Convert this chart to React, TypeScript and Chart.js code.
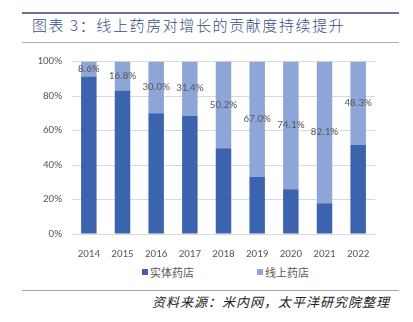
import React, { useEffect, useRef } from "react";
import { Chart, registerables } from "chart.js";

Chart.register(...registerables);

const titleText = "图表 3：线上药房对增长的贡献度持续提升";
const sourceText = "资料来源：米内网，太平洋研究院整理";
const years = ["2014", "2015", "2016", "2017", "2018", "2019", "2020", "2021", "2022"];
const seriesNames = ["实体药店", "线上药店"];
const offlineShare = [91.4, 83.2, 70.0, 68.6, 49.8, 33.0, 25.9, 17.9, 51.7];
const onlineShare = [8.6, 16.8, 30.0, 31.4, 50.2, 67.0, 74.1, 82.1, 48.3];
const yTicks = [0, 20, 40, 60, 80, 100];
const colors = ["#3C63AE", "#8EA6D7"];

const tickFont = 'Carlito, "Liberation Sans", "Noto Sans", sans-serif';

const labelPlugin = {
  id: "segLabels",
  afterDatasetsDraw(chart: any) {
    const ctx = chart.ctx;
    const meta = chart.getDatasetMeta(1);
    ctx.save();
    ctx.font = `11px ${tickFont}`;
    ctx.fillStyle = "#595959";
    ctx.textAlign = "center";
    ctx.textBaseline = "middle";
    meta.data.forEach((el: any, i: number) => {
      const v = onlineShare[i];
      const y = (el.y + el.base) / 2;
      ctx.fillText(v.toFixed(1) + "%", el.x, y);
    });
    ctx.restore();
  },
};

function ChartBox() {
  const ref = useRef<HTMLCanvasElement | null>(null);
  useEffect(() => {
    if (!ref.current) return;
    const chart = new Chart(ref.current, {
      type: "bar",
      data: {
        labels: years,
        datasets: [
          { label: seriesNames[0], data: offlineShare, backgroundColor: colors[0], barPercentage: 0.46, categoryPercentage: 1 },
          { label: seriesNames[1], data: onlineShare, backgroundColor: colors[1], barPercentage: 0.46, categoryPercentage: 1 },
        ],
      },
      options: {
        responsive: false,
        animation: false,
        devicePixelRatio: 1,
        layout: { padding: { left: 0, right: 38, top: 12, bottom: 0 } },
        plugins: { legend: { display: false }, tooltip: { enabled: false } },
        scales: {
          x: {
            stacked: true,
            grid: { display: false },
            border: { display: true, color: "#D9D9D9" },
            ticks: { color: "#595959", font: { family: tickFont, size: 11 }, padding: 6 },
            afterFit: (s: any) => { s.height = 26; },
          },
          y: {
            stacked: true,
            min: 0,
            max: 100,
            afterBuildTicks: (s: any) => { s.ticks = yTicks.map((v) => ({ value: v })); },
            grid: { color: "#D9D9D9", drawTicks: false },
            border: { display: false },
            ticks: {
              color: "#595959",
              font: { family: tickFont, size: 11 },
              padding: 10,
              callback: (v: any) => v + "%",
            },
            afterFit: (s: any) => { s.width = 72; },
          },
        },
      },
      plugins: [labelPlugin],
    });
    return () => chart.destroy();
  }, []);
  return <canvas ref={ref} width={413} height={215} style={{ position: "absolute", left: 0, top: 45, width: 413, height: 215 }} />;
}

export default function App() {
  return (
    <div style={{ position: "absolute", left: 0, top: 0, width: 413, height: 322, background: "#fff", overflow: "hidden" }}>
      <div style={{ position: "absolute", left: 22, top: 12, width: 377, height: 2, background: "#6E729F" }} />
      <div style={{ position: "absolute", left: 32, top: 14, height: 22, lineHeight: "22px", fontFamily: '"Noto Sans CJK SC", sans-serif', fontWeight: 300, fontSize: 15, letterSpacing: 1.6, color: "#34507F", whiteSpace: "nowrap" }}>
        {titleText}
      </div>
      <div style={{ position: "absolute", left: 22, top: 42, width: 377, height: 1, background: "#A9ACCB" }} />
      <ChartBox />
      <div style={{ position: "absolute", left: 0, top: 264, width: 413, height: 16 }}>
        {seriesNames.map((n, i) => (
          <div key={n} style={{ position: "absolute", left: i === 0 ? 142 : 257, top: 0, height: 16, display: "flex", alignItems: "center", fontFamily: '"Noto Sans CJK SC", sans-serif', fontSize: 11, color: "#595959", whiteSpace: "nowrap" }}>
            <span style={{ display: "inline-block", width: 6, height: 6, background: colors[i], marginRight: 2 }} />
            {n}
          </div>
        ))}
      </div>
      <div style={{ position: "absolute", left: 22, top: 290, width: 377, height: 1, background: "#A0A3C4" }} />
      <div style={{ position: "absolute", right: 23, top: 292, height: 20, lineHeight: "20px", fontFamily: '"Noto Sans CJK SC", sans-serif', fontSize: 13, fontStyle: "italic", letterSpacing: 1, color: "#222", whiteSpace: "nowrap" }}>
        {sourceText}
      </div>
    </div>
  );
}
